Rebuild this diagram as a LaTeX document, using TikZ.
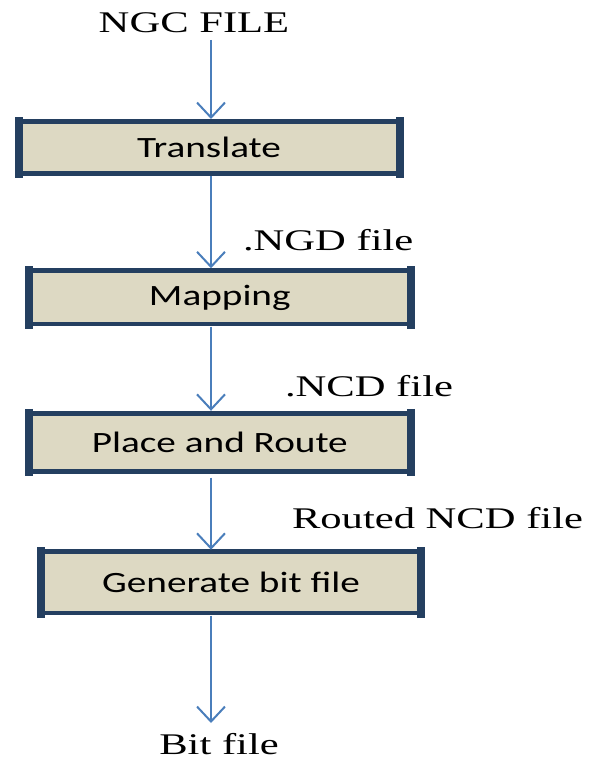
\documentclass[tikz,border=0pt]{standalone}
\usepackage{fontspec}
\setmainfont{Liberation Serif}
\newfontfamily\boxfont{Carlito}
\usetikzlibrary{arrows.meta}

\definecolor{rimblue}{HTML}{243F60}
\definecolor{tanfill}{HTML}{DDD9C3}
\definecolor{flowblue}{HTML}{4A7EBB}

% wide lettering used throughout the chart
\newcommand\wideserif[1]{\scalebox{1.42}[1]{#1}}
\newcommand\widesans[1]{\scalebox{1.33}[1]{#1}}

% dark rims of a process box: thin top and bottom, heavy end bars
\newcommand\rimmed[1]{%
  \draw[rimline] (#1.north west) -- (#1.north east);
  \draw[rimline] (#1.south west) -- (#1.south east);
  \draw[rimbar] ([yshift=4.5pt]#1.north west) -- ([yshift=-4.5pt]#1.south west);
  \draw[rimbar] ([yshift=4.5pt]#1.north east) -- ([yshift=-4.5pt]#1.south east);
}

\begin{document}
\begin{tikzpicture}[x=1pt,y=-1pt,
  stepbox/.style={rectangle, fill=tanfill, inner sep=0pt, outer sep=0pt,
    font=\boxfont\fontsize{29.5}{32}\selectfont, text=black},
  rimline/.style={draw=rimblue, line width=4.8pt},
  rimbar/.style={draw=rimblue, line width=8pt},
  filelabel/.style={font=\fontsize{30}{34}\selectfont, inner sep=0pt, outer sep=0pt, text=black},
  flow/.style={draw=flowblue, line width=2pt,
    -{Straight Barb[length=15pt,width=28pt]}}
]
\useasboundingbox (0,0) rectangle (598,760);

% process boxes
\node[stepbox, minimum width=381pt, minimum height=52pt] (tr) at (209,147.5) {\widesans{Translate}};
\node[stepbox, minimum width=381.6pt, minimum height=53.3pt] (mp) at (219.8,297.4) {\widesans{Mapping}};
\node[stepbox, minimum width=381.6pt, minimum height=58.4pt] (pr) at (219.8,442.5) {\widesans{Place and Route}};
\node[stepbox, minimum width=380pt, minimum height=61.3pt] (gb) at (231,582.4) {\widesans{Generate bit file}};

\rimmed{tr}
\rimmed{mp}
\rimmed{pr}
\rimmed{gb}

% file labels
\node[filelabel, anchor=base] (ngc) at (194,33) {\wideserif{NGC FILE}};
\node[filelabel, anchor=base west] (ngd) at (243,250.7) {\wideserif{.NGD file}};
\node[filelabel, anchor=base west] (ncd) at (285,396.7) {\wideserif{.NCD file}};
\node[filelabel, anchor=base west] (rncd) at (292,528.5) {\wideserif{Routed NCD file}};
\node[filelabel, anchor=base] (bit) at (219,754) {\wideserif{Bit file}};

% flow arrows
\coordinate (src) at (211,40);
\coordinate (sink) at (211,723);
\draw[flow, shorten >=2.5pt] (src) -- (src |- tr.north);
\draw[flow, shorten <=2.5pt, shorten >=2.5pt] (src |- tr.south) -- (src |- mp.north);
\draw[flow, shorten <=2.5pt, shorten >=2.5pt] (src |- mp.south) -- (src |- pr.north);
\draw[flow, shorten <=6pt, shorten >=2pt] (src |- pr.south) -- (src |- gb.north);
\draw[flow, shorten <=2.5pt] (src |- gb.south) -- (sink);
\end{tikzpicture}
\end{document}
